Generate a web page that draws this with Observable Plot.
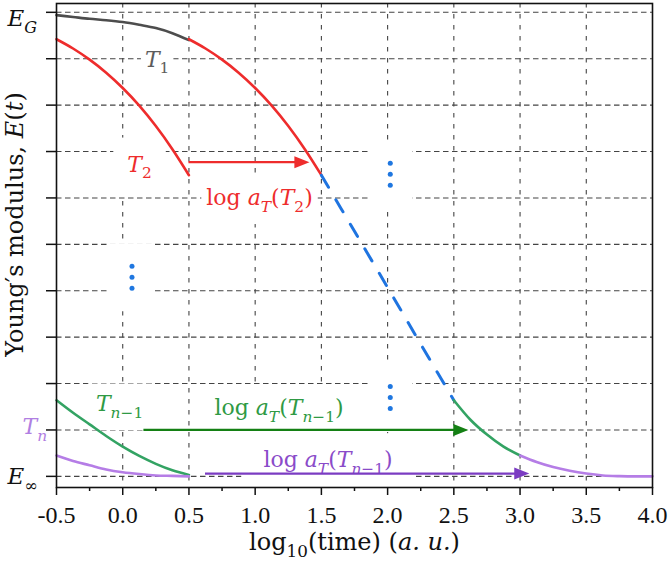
<!DOCTYPE html>
<html>
<head>
<meta charset="utf-8">
<script src="https://cdn.jsdelivr.net/npm/d3@7"></script>
<script src="https://cdn.jsdelivr.net/npm/@observablehq/plot@0.6"></script>
<style>
  body { margin: 0; background: #fff; }
</style>
</head>
<body>
<div id="chart"></div>
<script>
// Time–temperature superposition: isotherms of E(t) shifted along log10(time)

// Isotherms measured over the same short window of log10(time)
const isoTime = [-0.5, -0.375, -0.25, -0.125, 0, 0.125, 0.25, 0.375, 0.5];
const modT1  = [9.94, 9.90, 9.86, 9.83, 9.79, 9.73, 9.66, 9.55, 9.40];
const modT2  = [9.42, 9.22, 8.98, 8.70, 8.37, 7.99, 7.55, 7.05, 6.49];
const modTn1 = [1.64, 1.37, 1.12, 0.87, 0.64, 0.44, 0.27, 0.13, 0.03];
const modTn  = [0.45, 0.33, 0.24, 0.15, 0.09, 0.05, 0.02, 0.01, 0.00];
const shiftT2 = 1.0;

// Master-curve pieces
const masterMidTime = [1.5, 1.75, 2.0, 2.25, 2.5];
const masterMidMod  = [6.49, 5.28, 4.07, 2.85, 1.64];
const masterTn1Time = [2.5, 2.625, 2.75, 2.875, 3.0];
const masterTn1Mod  = [1.64, 1.22, 0.90, 0.64, 0.45];
const masterTnTime  = [3.0, 3.125, 3.25, 3.375, 3.5, 3.625, 3.75, 3.875, 4.0];
const masterTnMod   = [0.45, 0.31, 0.20, 0.12, 0.06, 0.02, 0.005, 0.0, 0.0];

// Shift-factor arrows
const arrowFrom  = [0.5, 0.16, 0.625];
const arrowTo    = [1.41, 2.61, 3.07];
const arrowLevel = [6.77, 1.0, 0.06];
const arrowColor = ["#ee2c2c", "#148014", "#7b3cc2"];

// Annotations (rich markup: *italic*, _{subscript})
const noteText  = ["*T*_{1}", "*T*_{2}", "log *a*_{*T*}(*T*_{2})", "*T*_{*n*−1}",
                   "log *a*_{*T*}(*T*_{*n*−1})", "log *a*_{*T*}(*T*_{*n*−1})"];
const noteTime  = [0.26, 0.127, 1.033, -0.024, 1.18, 1.55];
const noteMod   = [8.98, 6.72, 5.99, 1.55, 1.47, 0.35];
const noteColor = ["#5c5c5c", "#ee2c2c", "#ee2c2c", "#2f9a44", "#2f9a44", "#8a4bc9"];
const notePad   = [[4, 2], [14, 14], [5, 8], [8, 8], [18, 10], [22, 14]];

// vertical ellipses marking omitted isotherms
const ellipsisTime = [0.07, 2.02, 2.02];
const ellipsisMod  = [4.29, 6.51, 1.70];

// Axes
const xTicks  = [-0.5, 0, 0.5, 1.0, 1.5, 2.0, 2.5, 3.0, 3.5, 4.0];
const xMinor  = [-0.25, 0.25, 0.75, 1.25, 1.75, 2.25, 2.75, 3.25, 3.75];
const xGrid   = [0, 0.5, 1.0, 1.5, 2.0, 2.5, 3.0, 3.5];
const yTicks  = [0, 1, 2, 3, 4, 5, 6, 7, 8, 9, 10];
const xTitle  = "log_{10}(time) (*a. u.*)";
const yTitle  = "Young′s modulus, *E*(*t*)";

const pts = (xs, ys, shift = 0) => xs.map((x, i) => ({time: x + shift, E: ys[i]}));
const idx = (a) => a.map((_, i) => i);

// filled arrowhead with its tip at the anchor point, pointing right
const arrowHead = {
  draw(context, size) {
    const l = Math.sqrt(size);
    context.moveTo(0, 0);
    context.lineTo(-l, -0.4 * l);
    context.lineTo(-l, 0.4 * l);
    context.closePath();
  }
};
// blank backing tile behind each ellipsis
const ellipsisTile = {
  draw(context) {
    context.rect(-22, -34, 44, 68);
  }
};

const serif = "'DejaVu Serif', serif";
const curve = "monotone-x";
const ellipsisAt = {x: (i) => ellipsisTime[i], y: (i) => ellipsisMod[i]};

const chart = Plot.plot({
  width: 668,
  height: 561,
  marginLeft: 56,
  marginRight: 16,
  marginTop: 3,
  marginBottom: 74,
  x: {domain: [-0.5, 4.0]},
  y: {domain: [-0.24, 10.19]},
  color: {type: "identity"},
  style: {fontFamily: "'Liberation Serif', serif", fontSize: "24px", background: "#fff", color: "#111"},
  marks: [
    Plot.gridY(yTicks, {stroke: "#444", strokeOpacity: 1, strokeWidth: 1.1, strokeDasharray: "5.5,3.5"}),
    Plot.gridX(xGrid, {stroke: "#444", strokeOpacity: 1, strokeWidth: 1.1, strokeDasharray: "4.5,6.5"}),

    // annotations sit on white boxes that hide the grid behind them
    Plot.text(idx(noteText), {
      x: (i) => noteTime[i], y: (i) => noteMod[i], text: (i) => noteText[i],
      fill: (i) => noteColor[i], fontSize: 22, fontFamily: serif,
      textAnchor: "middle", lineAnchor: "middle", ariaDescription: "note"
    }),
    Plot.dot(idx(ellipsisTime), {...ellipsisAt, symbol: ellipsisTile, fill: "#fff", stroke: "none"}),
    Plot.dot(idx(ellipsisTime), {...ellipsisAt, r: 2.5, fill: "#1f77e0", stroke: "none", dy: -11}),
    Plot.dot(idx(ellipsisTime), {...ellipsisAt, r: 2.5, fill: "#1f77e0", stroke: "none"}),
    Plot.dot(idx(ellipsisTime), {...ellipsisAt, r: 2.5, fill: "#1f77e0", stroke: "none", dy: 11}),

    // isotherms
    Plot.line(pts(isoTime, modT1), {x: "time", y: "E", stroke: "#4d4d4d", strokeWidth: 2.6, curve}),
    Plot.line(pts(isoTime, modT2), {x: "time", y: "E", stroke: "#ee2c2c", strokeWidth: 2.6, curve}),
    Plot.line(pts(isoTime, modTn1), {x: "time", y: "E", stroke: "#33a363", strokeWidth: 2.6, curve}),
    Plot.line(pts(isoTime, modTn), {x: "time", y: "E", stroke: "#b57de6", strokeWidth: 2.6, curve}),

    // master curve
    Plot.line(pts(isoTime, modT2, shiftT2), {x: "time", y: "E", stroke: "#ee2c2c", strokeWidth: 2.6, curve}),
    Plot.line(pts(masterMidTime, masterMidMod), {x: "time", y: "E", stroke: "#1f74e0", strokeWidth: 3, strokeDasharray: "14,14.5", curve}),
    Plot.line(pts(masterTn1Time, masterTn1Mod), {x: "time", y: "E", stroke: "#33a363", strokeWidth: 2.6, curve}),
    Plot.line(pts(masterTnTime, masterTnMod), {x: "time", y: "E", stroke: "#b57de6", strokeWidth: 2.6, curve}),

    // shift arrows
    Plot.ruleY(idx(arrowFrom), {
      y: (i) => arrowLevel[i], x1: (i) => arrowFrom[i], x2: (i) => arrowTo[i],
      stroke: (i) => arrowColor[i], strokeWidth: 2.3, insetRight: 6
    }),
    Plot.dot(idx(arrowTo), {
      x: (i) => arrowTo[i], y: (i) => arrowLevel[i], symbol: arrowHead, r: 8.5,
      fill: (i) => arrowColor[i], stroke: "none"
    }),

    // axes
    Plot.axisX(xTicks, {tickSize: 8, tickPadding: 10, tickFormat: (d) => d.toFixed(1), label: null, strokeWidth: 1.5}),
    Plot.axisX(xMinor, {tickSize: 4, tickFormat: () => "", label: null, strokeWidth: 1.5}),
    Plot.axisY(yTicks, {tickSize: 10, tickFormat: () => "", label: null, strokeWidth: 1.5}),
    Plot.text(["*E*_{*G*}"], {y: () => 10, text: (d) => d, frameAnchor: "left", textAnchor: "start",
      lineAnchor: "middle", dx: -49, dy: 6, fontSize: 23, fontFamily: serif, fill: "#111"}),
    Plot.text(["*E*_{∞}"], {y: () => 0, text: (d) => d, frameAnchor: "left", textAnchor: "start",
      lineAnchor: "middle", dx: -49, dy: 0, fontSize: 23, fontFamily: serif, fill: "#111"}),
    Plot.text(["*T*_{*n*}"], {y: () => 1, text: (d) => d, frameAnchor: "left", textAnchor: "start",
      lineAnchor: "middle", dx: -34, dy: -3, fontSize: 22, fontFamily: serif, fill: "#b07fe2"}),
    Plot.text([xTitle], {text: (d) => d, frameAnchor: "bottom", textAnchor: "middle", lineAnchor: "middle",
      dy: 55, fontSize: 24, fontFamily: serif, fill: "#111"}),
    Plot.text([yTitle], {text: (d) => d, frameAnchor: "left", textAnchor: "middle", lineAnchor: "middle",
      rotate: -90, dx: -41, dy: -21, fontSize: 24, fontFamily: serif, fill: "#111"}),
    Plot.frame({stroke: "#111", strokeWidth: 1.6})
  ]
});

document.getElementById("chart").append(chart);

// turn the *italic* / _{sub} markup into tspans
const NS = "http://www.w3.org/2000/svg";
function parseRich(s) {
  const runs = [];
  let italic = false, sub = false, buf = "";
  const push = () => { if (buf) runs.push({t: buf, italic, sub}); buf = ""; };
  for (let i = 0; i < s.length; i++) {
    const c = s[i];
    if (c === "*") { push(); italic = !italic; }
    else if (c === "_" && s[i + 1] === "{") { push(); sub = true; i++; }
    else if (c === "}" && sub) { push(); sub = false; }
    else buf += c;
  }
  push();
  return runs;
}
function applyRich(el) {
  if (el.querySelector("tspan")) return;
  const s = el.textContent;
  if (!/\*|_\{/.test(s)) return;
  const fs = parseFloat(getComputedStyle(el).fontSize) || 22;
  el.textContent = "";
  let lowered = false;
  for (const r of parseRich(s)) {
    const ts = document.createElementNS(NS, "tspan");
    ts.textContent = r.t;
    if (r.italic) ts.setAttribute("font-style", "italic");
    if (r.sub) ts.setAttribute("font-size", (0.7 * fs).toFixed(1));
    if (r.sub && !lowered) { ts.setAttribute("dy", (0.3 * fs).toFixed(1)); lowered = true; }
    else if (!r.sub && lowered) { ts.setAttribute("dy", (-0.3 * fs).toFixed(1)); lowered = false; }
    el.appendChild(ts);
  }
}
chart.querySelectorAll("text").forEach(applyRich);

// white boxes behind annotations
function boxBehind(desc, pad) {
  chart.querySelectorAll(`g[aria-description="${desc}"]`).forEach((g) => {
    g.querySelectorAll(":scope > text").forEach((t, i) => {
      const b = t.getBBox();
      const [px, py] = pad(i);
      const r = document.createElementNS(NS, "rect");
      r.setAttribute("x", b.x - px);
      r.setAttribute("y", b.y - py);
      r.setAttribute("width", b.width + 2 * px);
      r.setAttribute("height", b.height + 2 * py);
      r.setAttribute("fill", "#fff");
      r.setAttribute("stroke", "none");
      const tf = t.getAttribute("transform");
      if (tf) r.setAttribute("transform", tf);
      t.parentNode.insertBefore(r, t);
    });
  });
}
boxBehind("note", (i) => notePad[i]);
</script>
</body>
</html>
